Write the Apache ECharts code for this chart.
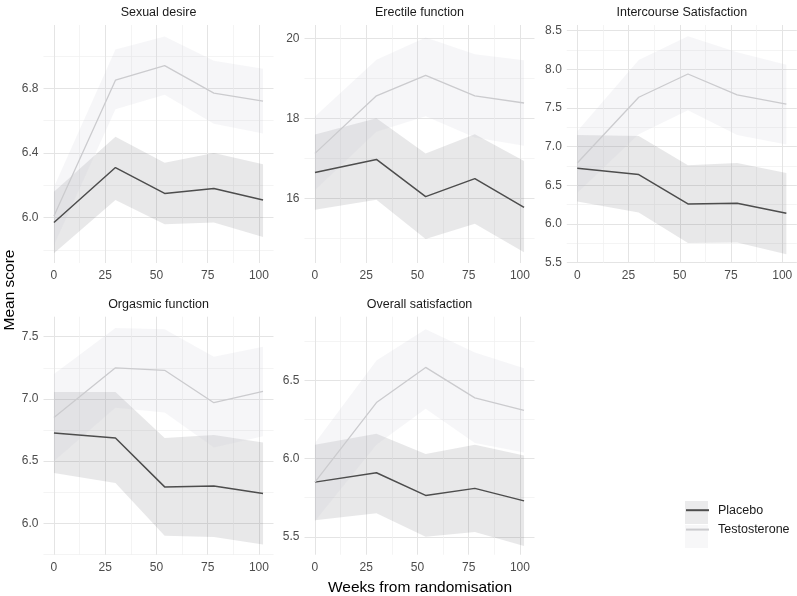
<!DOCTYPE html>
<html><head><meta charset="utf-8">
<script src="https://cdn.jsdelivr.net/npm/echarts@6/dist/echarts.min.js"></script>
<style>html,body{margin:0;padding:0;background:#fff}#c{width:797px;height:596px}</style>
</head><body><div id="c"></div>
<script>
// ---------- data ----------
const weeks = [0, 30, 54, 78, 102];
const xTicks = [0, 25, 50, 75, 100];
const xMinorTicks = [12.5, 37.5, 62.5, 87.5];
const seriesNames = ['Placebo', 'Testosterone'];
const panelTitles = ['Sexual desire', 'Erectile function', 'Intercourse Satisfaction', 'Orgasmic function', 'Overall satisfaction'];

// Sexual desire
const desirePlacebo     = [5.97, 6.31, 6.15, 6.18, 6.11];
const desirePlaceboLow  = [5.78, 6.11, 5.96, 5.97, 5.88];
const desirePlaceboHigh = [6.16, 6.50, 6.34, 6.40, 6.33];
const desireTesto       = [6.01, 6.85, 6.94, 6.77, 6.72];
const desireTestoLow    = [5.83, 6.67, 6.76, 6.58, 6.52];
const desireTestoHigh   = [6.19, 7.04, 7.12, 6.97, 6.92];
const desireTicks       = [6.0, 6.4, 6.8];
const desireMinorTicks  = [5.8, 6.2, 6.6, 7.0];

// Erectile function
const erectilePlacebo     = [16.64, 16.97, 16.04, 16.49, 15.77];
const erectilePlaceboLow  = [15.71, 15.96, 14.98, 15.36, 14.65];
const erectilePlaceboHigh = [17.59, 18.00, 17.12, 17.60, 16.93];
const erectileTesto       = [17.12, 18.56, 19.07, 18.56, 18.38];
const erectileTestoLow    = [16.20, 17.66, 18.05, 17.52, 17.31];
const erectileTestoHigh   = [18.04, 19.46, 20.02, 19.60, 19.45];
const erectileTicks       = [16, 18, 20];
const erectileMinorTicks  = [15, 17, 19];

// Intercourse Satisfaction
const intercoursePlacebo     = [6.72, 6.64, 6.26, 6.27, 6.14];
const intercoursePlaceboLow  = [6.29, 6.15, 5.755, 5.76, 5.61];
const intercoursePlaceboHigh = [7.15, 7.14, 6.76, 6.79, 6.66];
const intercourseTesto       = [6.79, 7.64, 7.94, 7.67, 7.55];
const intercourseTestoLow    = [6.40, 7.16, 7.47, 7.15, 7.03];
const intercourseTestoHigh   = [7.20, 8.12, 8.43, 8.22, 8.06];
const intercourseTicks       = [5.5, 6.0, 6.5, 7.0, 7.5, 8.0, 8.5];
const intercourseMinorTicks  = [5.75, 6.25, 6.75, 7.25, 7.75, 8.25];

// Orgasmic function
const orgasmicPlacebo     = [6.727, 6.686, 6.293, 6.30, 6.24];
const orgasmicPlaceboLow  = [6.405, 6.325, 5.90, 5.89, 5.83];
const orgasmicPlaceboHigh = [7.056, 7.056, 6.686, 6.71, 6.65];
const orgasmicTesto       = [6.85, 7.25, 7.23, 6.97, 7.06];
const orgasmicTestoLow    = [6.50, 6.93, 6.89, 6.61, 6.70];
const orgasmicTestoHigh   = [7.20, 7.57, 7.56, 7.34, 7.42];
const orgasmicTicks       = [6.0, 6.5, 7.0, 7.5];
const orgasmicMinorTicks  = [5.75, 6.25, 6.75, 7.25];

// Overall satisfaction
const overallPlacebo     = [5.85, 5.91, 5.765, 5.81, 5.73];
const overallPlaceboLow  = [5.605, 5.65, 5.50, 5.53, 5.44];
const overallPlaceboHigh = [6.09, 6.16, 6.03, 6.09, 6.02];
const overallTesto       = [5.85, 6.36, 6.585, 6.39, 6.31];
const overallTestoLow    = [5.60, 6.09, 6.32, 6.10, 6.04];
const overallTestoHigh   = [6.10, 6.63, 6.83, 6.68, 6.58];
const overallTicks       = [5.5, 6.0, 6.5];
const overallMinorTicks  = [5.75, 6.25, 6.75];

// ---------- layout / style ----------
const FONT = 'Liberation Sans, Arial, sans-serif';
const panelLayout = [
  {left: 43.5, top: 25,    yMin: 5.72,  yMax: 7.191, dec: 1},
  {left: 304.5, top: 25,   yMin: 14.38, yMax: 20.33, dec: 0},
  {left: 566.8, top: 25,   yMin: 5.496, yMax: 8.574, dec: 1},
  {left: 43.5, top: 316.7, yMin: 5.748, yMax: 7.661, dec: 1},
  {left: 304.5, top: 316.7, yMin: 5.385, yMax: 6.91, dec: 1}
];
const PW = 230, PH = 238;
const panels = [
  {p: desirePlacebo, pl: desirePlaceboLow, ph: desirePlaceboHigh, t: desireTesto, tl: desireTestoLow, th: desireTestoHigh, ticks: desireTicks, minor: desireMinorTicks},
  {p: erectilePlacebo, pl: erectilePlaceboLow, ph: erectilePlaceboHigh, t: erectileTesto, tl: erectileTestoLow, th: erectileTestoHigh, ticks: erectileTicks, minor: erectileMinorTicks},
  {p: intercoursePlacebo, pl: intercoursePlaceboLow, ph: intercoursePlaceboHigh, t: intercourseTesto, tl: intercourseTestoLow, th: intercourseTestoHigh, ticks: intercourseTicks, minor: intercourseMinorTicks},
  {p: orgasmicPlacebo, pl: orgasmicPlaceboLow, ph: orgasmicPlaceboHigh, t: orgasmicTesto, tl: orgasmicTestoLow, th: orgasmicTestoHigh, ticks: orgasmicTicks, minor: orgasmicMinorTicks},
  {p: overallPlacebo, pl: overallPlaceboLow, ph: overallPlaceboHigh, t: overallTesto, tl: overallTestoLow, th: overallTestoHigh, ticks: overallTicks, minor: overallMinorTicks}
];
const PLACEBO_LINE = '#4d4d4d', TESTO_LINE = '#cbcbce';
const PLACEBO_FILL = 'rgba(90,90,98,0.14)', TESTO_FILL = 'rgba(200,200,212,0.16)';
const MAJOR_GRID = '#e4e4e4', MINOR_GRID = '#efefef';

const pairs = arr => weeks.map((w, k) => [w, arr[k]]);
const triples = (lo, hi) => weeks.map((w, k) => [w, lo[k], hi[k]]);

function ribbonSeries(xi, yi, lo, hi, fill, name) {
  return {
    type: 'custom', name: name, xAxisIndex: xi, yAxisIndex: yi, silent: true, z: 1,
    data: triples(lo, hi), encode: {x: 0, y: [1, 2]},
    renderItem: function (params, api) {
      if (params.dataIndex !== 0) return null;
      const pts = [];
      for (let k = 0; k < weeks.length; k++) pts.push(api.coord([weeks[k], hi[k]]));
      for (let k = weeks.length - 1; k >= 0; k--) pts.push(api.coord([weeks[k], lo[k]]));
      return {type: 'polygon', shape: {points: pts}, style: {fill: fill}};
    }
  };
}

const grid = [], xAxis = [], yAxis = [], series = [], graphic = [];
panels.forEach((d, i) => {
  const L = panelLayout[i];
  grid.push({left: L.left, top: L.top, width: PW, height: PH, containLabel: false});
  xAxis.push({type: 'value', gridIndex: i, min: -5.1, max: 107.1, position: 'bottom',
    axisLine: {show: false}, axisTick: {show: false, customValues: xTicks},
    axisLabel: {customValues: xTicks, margin: 7, color: '#4d4d4d', fontSize: 12, fontFamily: FONT},
    splitLine: {show: true, lineStyle: {color: MAJOR_GRID, width: 1}}});
  xAxis.push({type: 'value', gridIndex: i, min: -5.1, max: 107.1, position: 'top',
    axisLine: {show: false}, axisTick: {show: false, customValues: xMinorTicks},
    axisLabel: {show: false, customValues: xMinorTicks},
    splitLine: {show: true, lineStyle: {color: MINOR_GRID, width: 0.7}}});
  yAxis.push({type: 'value', gridIndex: i, min: L.yMin, max: L.yMax, position: 'left',
    axisLine: {show: false}, axisTick: {show: false, customValues: d.ticks},
    axisLabel: {customValues: d.ticks, margin: 5, color: '#4d4d4d', fontSize: 12, fontFamily: FONT,
      formatter: v => Number(v).toFixed(L.dec)},
    splitLine: {show: true, lineStyle: {color: MAJOR_GRID, width: 1}}});
  yAxis.push({type: 'value', gridIndex: i, min: L.yMin, max: L.yMax, position: 'right',
    axisLine: {show: false}, axisTick: {show: false, customValues: d.minor},
    axisLabel: {show: false, customValues: d.minor},
    splitLine: {show: true, lineStyle: {color: MINOR_GRID, width: 0.7}}});

  const xi = 2 * i, yi = 2 * i;
  series.push(ribbonSeries(xi, yi, d.pl, d.ph, PLACEBO_FILL, 'pband_' + i));
  series.push(ribbonSeries(xi, yi, d.tl, d.th, TESTO_FILL, 'tband_' + i));
  const base = {type: 'line', xAxisIndex: xi, yAxisIndex: yi, symbol: 'none', silent: true, animation: false, z: 3};
  series.push(Object.assign({}, base, {name: seriesNames[0], data: pairs(d.p), color: PLACEBO_LINE, lineStyle: {color: PLACEBO_LINE, width: 1.5}}));
  series.push(Object.assign({}, base, {name: seriesNames[1], data: pairs(d.t), color: TESTO_LINE, lineStyle: {color: TESTO_LINE, width: 1.3}}));

  graphic.push({type: 'text', x: L.left + PW / 2, y: L.top - 12,
    style: {text: panelTitles[i], align: 'center', verticalAlign: 'middle', font: '12.5px ' + FONT, fill: '#1a1a1a'}});
});

graphic.push({type: 'text', x: 420, y: 588,
  style: {text: 'Weeks from randomisation', align: 'center', verticalAlign: 'middle', font: '15.5px ' + FONT, fill: '#000'}});
graphic.push({type: 'text', x: 10, y: 290, rotation: Math.PI / 2,
  style: {text: 'Mean score', align: 'center', verticalAlign: 'middle', font: '15.5px ' + FONT, fill: '#000'}});
graphic.push({type: 'rect', shape: {x: 685, y: 501, width: 23, height: 23}, style: {fill: '#ebebec'}, z: -1});
graphic.push({type: 'rect', shape: {x: 685, y: 525, width: 23, height: 23}, style: {fill: '#f7f7f8'}, z: -1});

const chart = echarts.init(document.getElementById('c'), null, {renderer: 'canvas'});
chart.setOption({
  animation: false,
  backgroundColor: '#fff',
  grid, xAxis, yAxis, series, graphic,
  legend: {
    data: seriesNames, left: 685, top: 501, orient: 'vertical', padding: 0,
    itemWidth: 23, itemHeight: 23, itemGap: 1, selectedMode: false,
    itemStyle: {opacity: 0},
    textStyle: {fontSize: 12.5, color: '#1a1a1a', fontFamily: FONT, padding: [0, 0, 0, 4]}
  }
});
</script></body></html>
